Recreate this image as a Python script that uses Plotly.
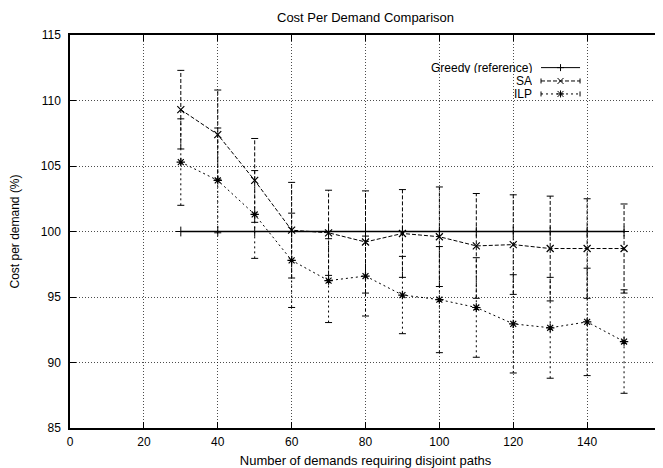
import plotly.graph_objects as go

# ---- data ----
demands = [30, 40, 50, 60, 70, 80, 90, 100, 110, 120, 130, 140, 150]
greedy = [100, 100, 100, 100, 100, 100, 100, 100, 100, 100, 100, 100, 100]
sa = [109.3, 107.4, 103.9, 100.1, 99.9, 99.2, 99.85, 99.6, 98.9, 99.0, 98.7, 98.7, 98.7]
sa_err = [3.0, 3.4, 3.2, 3.65, 3.25, 3.9, 3.35, 3.8, 4.0, 3.8, 4.0, 3.8, 3.4]
ilp = [105.3, 103.9, 101.3, 97.8, 96.25, 96.6, 95.15, 94.8, 94.2, 92.95, 92.65, 93.1, 91.6]
ilp_err = [3.3, 4.0, 3.35, 3.6, 3.2, 3.05, 2.95, 4.05, 3.8, 3.75, 3.85, 4.1, 3.95]

x_ticks = [0, 20, 40, 60, 80, 100, 120, 140, 160]
y_ticks = [85, 90, 95, 100, 105, 110, 115]

FONT = "Liberation Sans, Arial, Helvetica, sans-serif"
SA_DASH = "4px,2px"
ILP_DASH = "2px,3px"

fig = go.Figure()


def err_segments(xs, ys, es):
    bx, by = [], []
    for x, y, e in zip(xs, ys, es):
        bx += [x, x, None]
        by += [y - e, y + e, None]
    return bx, by


def err_caps(xs, ys, es):
    cx, cy = [], []
    for x, y, e in zip(xs, ys, es):
        cx += [x, x]
        cy += [y - e, y + e]
    return cx, cy


for vals, errs, dash in [(sa, sa_err, SA_DASH), (ilp, ilp_err, ILP_DASH)]:
    bx, by = err_segments(demands, vals, errs)
    fig.add_trace(go.Scatter(x=bx, y=by, mode="lines",
                             line=dict(color="black", width=1, dash=dash),
                             showlegend=False, hoverinfo="skip"))
    cx, cy = err_caps(demands, vals, errs)
    fig.add_trace(go.Scatter(x=cx, y=cy, mode="markers",
                             marker=dict(symbol="line-ew-open", size=5, color="black",
                                         line=dict(color="black", width=1)),
                             showlegend=False, hoverinfo="skip"))

fig.add_trace(go.Scatter(x=demands, y=greedy, mode="lines+markers", name="Greedy (reference)",
                         line=dict(color="black", width=1.4),
                         marker=dict(symbol="cross-thin-open", size=7, color="black",
                                     line=dict(color="black", width=1)),
                         showlegend=False))
fig.add_trace(go.Scatter(x=demands, y=sa, mode="lines+markers", name="SA",
                         line=dict(color="black", width=1, dash=SA_DASH),
                         marker=dict(symbol="x-thin-open", size=7, color="black",
                                     line=dict(color="black", width=1.2)),
                         showlegend=False))
fig.add_trace(go.Scatter(x=demands, y=ilp, mode="lines+markers", name="ILP",
                         line=dict(color="black", width=1, dash=ILP_DASH),
                         marker=dict(symbol="asterisk-open", size=7, color="black",
                                     line=dict(color="black", width=1.2)),
                         showlegend=False))

# ---- gnuplot-style legend (text left, sample right) ----
legend_rows = [("Greedy (reference)", None, "plus", 0.917),
               ("SA", SA_DASH, "x", 0.883),
               ("ILP", ILP_DASH, "star", 0.850)]
lx0, lx1, lxm = 0.797, 0.863, 0.83
shapes = []
annotations = []
for label, dash, sym, ly in legend_rows:
    annotations.append(dict(text=label, x=0.784, y=ly, xref="paper", yref="paper",
                            xanchor="right", yanchor="middle", showarrow=False,
                            height=11, borderpad=0,
                            font=dict(family=FONT, size=12, color="black")))
    ln = dict(color="black", width=1)
    if dash:
        ln["dash"] = dash
    shapes.append(dict(type="line", xref="paper", yref="paper",
                       x0=lx0, x1=lx1, y0=ly, y1=ly, line=ln))
    if dash:
        for ex in (lx0, lx1):
            shapes.append(dict(type="line", xref="paper", yref="paper",
                               xsizemode="pixel", ysizemode="pixel",
                               xanchor=ex, yanchor=ly, x0=0, x1=0, y0=-2.5, y1=2.5,
                               line=dict(color="black", width=1)))
    segs = []
    if sym == "plus":
        segs += [(-3.5, 0, 3.5, 0), (0, -3.5, 0, 3.5)]
    if sym in ("x", "star"):
        segs += [(-3, -3, 3, 3), (-3, 3, 3, -3)]
    if sym == "star":
        segs += [(-3.5, 0, 3.5, 0), (0, -3.5, 0, 3.5)]
    for a, b, c, d in segs:
        shapes.append(dict(type="line", xref="paper", yref="paper",
                           xsizemode="pixel", ysizemode="pixel",
                           xanchor=lxm, yanchor=ly, x0=a, y0=b, x1=c, y1=d,
                           line=dict(color="black", width=1)))

annotations.append(dict(text="Cost Per Demand Comparison", x=0.5, y=1 + 26 / 393,
                        xref="paper", yref="paper", xanchor="center", yanchor="top",
                        height=15, borderpad=0,
                        showarrow=False, font=dict(family=FONT, size=13, color="black")))

axis_common = dict(showline=True, linecolor="black", linewidth=1.5, mirror="ticks",
                   ticks="inside", ticklen=6, tickcolor="black", tickwidth=1,
                   showgrid=True, gridcolor="rgba(0,0,0,0.7)", griddash="1px,2px", gridwidth=1,
                   zeroline=False, tickfont=dict(family=FONT, size=12, color="black"))

# page body has an 8px default margin, so the figure is shifted by 8px
fig.update_layout(
    width=655, height=460,
    margin=dict(l=62, r=2, t=27, b=40),
    paper_bgcolor="white", plot_bgcolor="white",
    font=dict(family=FONT, size=12, color="black"),
    xaxis=dict(range=[0, 160], tickvals=x_ticks, ticktext=[str(v) for v in x_ticks],
               title=dict(text="Number of demands requiring disjoint paths",
                          font=dict(family=FONT, size=13), standoff=13),
               ticklabelstandoff=2,
               automargin=False, **axis_common),
    yaxis=dict(range=[85, 115], tickvals=y_ticks, ticktext=[str(v) for v in y_ticks],
               title=dict(text="Cost per demand (%)", font=dict(family=FONT, size=12), standoff=20),
               ticklabelstandoff=5,
               automargin=False, **axis_common),
    shapes=shapes, annotations=annotations, showlegend=False,
)

fig.write_html("out.html")
